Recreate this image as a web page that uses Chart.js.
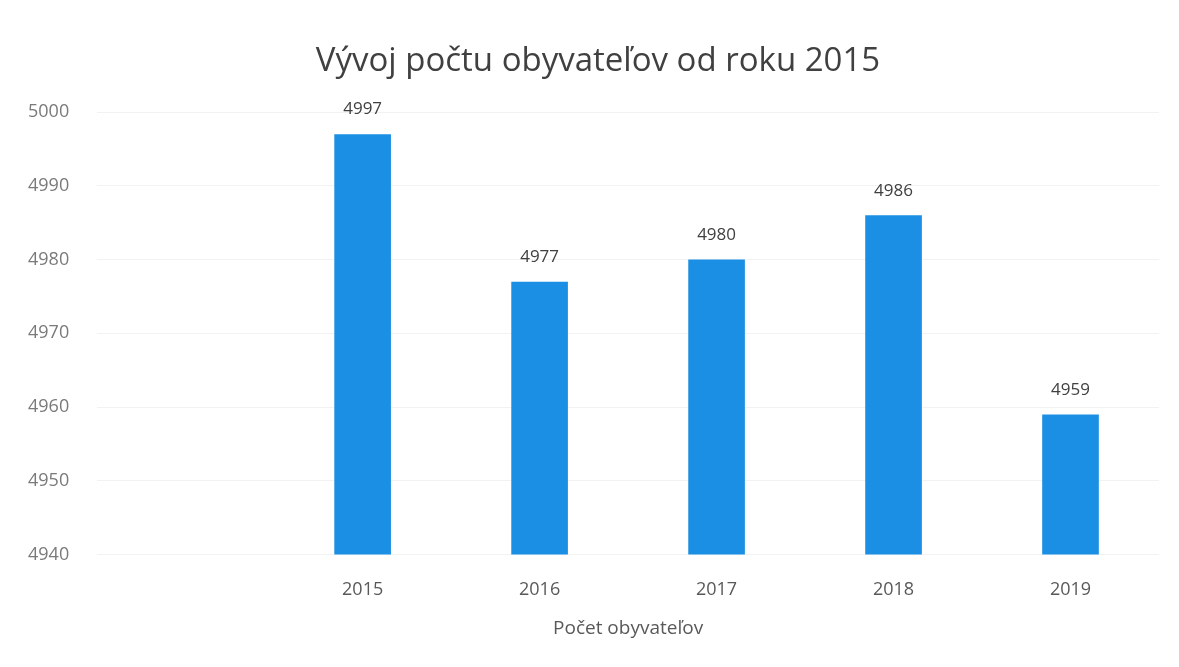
<!DOCTYPE html>
<html lang="sk">
<head>
  <meta charset="UTF-8" />
  <title>Vývoj počtu obyvateľov</title>
  <script src="https://cdn.jsdelivr.net/npm/chart.js"></script>
  <style>
    html, body { margin: 0; padding: 0; background: #fff; }
    #wrap { width: 1179px; height: 667px; }
  </style>
</head>
<body>
  <div id="wrap"><canvas id="graf"></canvas></div>

<script>
  // prvy stlpec je prazdny (tak ako v povodnom grafe)
  const roky = ["", "2015", "2016", "2017", "2018", "2019"];
  const obyvatelia = [null, 4997, 4977, 4980, 4986, 4959];
  const osY = [4940, 4950, 4960, 4970, 4980, 4990, 5000];
  const nadpis = "Vývoj počtu obyvateľov od roku 2015";

  const pismo = "'Open Sans', 'Noto Sans', sans-serif";

  // popisky hodnot nad stlpcami + nadpis trochu posunuty doprava
  const popisky = {
    id: "popisky",
    afterDatasetsDraw(chart) {
      const c = chart.ctx;
      const meta = chart.getDatasetMeta(0);
      c.save();
      c.font = "17px " + pismo;
      c.fillStyle = "#404040";
      c.textAlign = "center";
      c.textBaseline = "bottom";
      meta.data.forEach((bar, i) => {
        const v = obyvatelia[i];
        if (v == null) return;
        c.fillText(v, bar.x, bar.y - 16);
      });

      c.font = "33px " + pismo;
      c.textBaseline = "middle";
      c.fillText(nadpis, 598, 62);
      c.restore();
    }
  };

  new Chart(document.getElementById("graf"), {
    type: "bar",
    data: {
      labels: roky,
      datasets: [{
        label: "Počet obyvateľov",
        data: obyvatelia,
        backgroundColor: "#1a8fe3",
        barPercentage: 0.32,
        categoryPercentage: 1
      }]
    },
    options: {
      responsive: true,
      maintainAspectRatio: false,
      animation: false,
      layout: { padding: { left: 0, right: 20, top: 112, bottom: 23 } },
      scales: {
        y: {
          min: osY[0],
          max: osY[osY.length - 1],
          afterBuildTicks(axis) { axis.ticks = osY.map(v => ({ value: v })); },
          border: { display: false },
          grid: { color: "rgba(0,0,0,0.05)", drawTicks: false },
          ticks: {
            padding: 28,
            color: "#7a7a7a",
            font: { family: pismo, size: 18 },
            callback: v => String(v)
          }
        },
        x: {
          border: { display: false },
          grid: { display: false },
          ticks: {
            padding: 16,
            color: "#595959",
            font: { family: pismo, size: 18 }
          },
          title: {
            display: true,
            text: "Počet obyvateľov",
            color: "#595959",
            font: { family: pismo, size: 19 },
            padding: { top: 1 }
          }
        }
      },
      plugins: {
        legend: { display: false },
        tooltip: { enabled: false },
        title: { display: false }
      }
    },
    plugins: [popisky]
  });
</script>
</body>
</html>
